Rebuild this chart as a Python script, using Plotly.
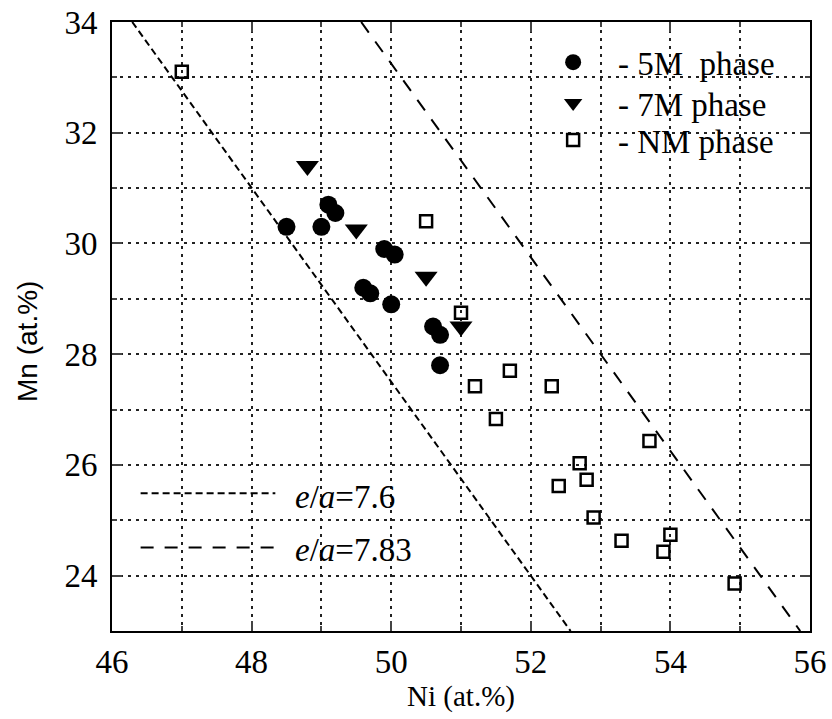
import plotly.graph_objects as go

# ---- data ----
ni_5m = [48.5, 49.0, 49.1, 49.2, 49.9, 50.05, 49.6, 49.7, 50.0, 50.6, 50.7, 50.7]
mn_5m = [30.3, 30.3, 30.7, 30.55, 29.9, 29.8, 29.2, 29.1, 28.9, 28.5, 28.35, 27.8]

ni_7m = [48.8, 49.5, 50.5, 51.0]
mn_7m = [31.4, 30.25, 29.4, 28.5]

ni_nm = [47.0, 50.5, 51.0, 51.7, 51.2, 52.3, 51.5, 53.7, 52.7, 52.8, 52.4, 52.9, 53.3, 54.0, 53.9, 54.92]
mn_nm = [33.1, 30.4, 28.75, 27.7, 27.42, 27.42, 26.83, 26.43, 26.03, 25.73, 25.62, 25.05, 24.63, 24.74, 24.43, 23.86]

# e/a iso-lines (end points)
ni_ea76 = [46.29, 52.57]
mn_ea76 = [34.0, 23.0]
ni_ea783 = [49.57, 55.86]
mn_ea783 = [34.0, 23.0]

x_ticks = [46, 48, 50, 52, 54, 56]
y_ticks = [24, 26, 28, 30, 32, 34]

SERIF = "Liberation Serif"
SANS = "Liberation Sans"

fig = go.Figure()

fig.add_trace(go.Scatter(x=ni_ea76, y=mn_ea76, mode="lines", showlegend=False,
                         line=dict(color="black", width=2, dash="7px,4px")))
fig.add_trace(go.Scatter(x=ni_ea783, y=mn_ea783, mode="lines", showlegend=False,
                         line=dict(color="black", width=2, dash="13px,11px")))

fig.add_trace(go.Scatter(x=ni_5m, y=mn_5m, mode="markers", name="&nbsp;&nbsp; - 5M&nbsp; phase",
                         marker=dict(symbol="circle", size=18, color="black"),
                         legend="legend"))
fig.add_trace(go.Scatter(x=ni_7m, y=mn_7m, mode="markers", name="&nbsp;&nbsp; - 7M phase",
                         marker=dict(symbol="triangle-down", size=20, color="black"),
                         legend="legend2"))
fig.add_trace(go.Scatter(x=ni_nm, y=mn_nm, mode="markers", name="&nbsp;&nbsp; - NM phase",
                         marker=dict(symbol="square-open", size=12, color="black",
                                     line=dict(width=2.5, color="black")),
                         legend="legend3"))

# line legend (samples + labels)
fig.add_shape(type="line", x0=46.41, x1=48.34, y0=25.49, y1=25.49,
              line=dict(color="black", width=2, dash="7px,4px"))
fig.add_shape(type="line", x0=46.41, x1=48.34, y0=24.51, y1=24.51,
              line=dict(color="black", width=2, dash="13px,11px"))
fig.add_annotation(x=48.6, y=25.42, text="<i>e</i>/<i>a</i>=7.6", showarrow=False,
                   xanchor="left", yanchor="middle", font=dict(family=SERIF, size=33, color="black"))
fig.add_annotation(x=48.6, y=24.47, text="<i>e</i>/<i>a</i>=7.83", showarrow=False,
                   xanchor="left", yanchor="middle", font=dict(family=SERIF, size=33, color="black"))

# y-axis title
fig.add_annotation(xref="paper", yref="paper", x=-0.122, y=0.476, text="Mn (at.%)",
                   textangle=-90, showarrow=False, xanchor="center", yanchor="middle",
                   font=dict(family=SANS, size=28, color="black"))

grid = dict(gridcolor="#222", gridwidth=1.5, griddash="3px,5px")
leg_common = dict(xanchor="left", yanchor="middle", bgcolor="rgba(0,0,0,0)",
                  font=dict(family=SERIF, size=33, color="black"), borderwidth=0)

fig.update_layout(
    width=832, height=719,
    margin=dict(l=112, r=22, t=22, b=88, autoexpand=False),
    paper_bgcolor="white", plot_bgcolor="white",
    legend=dict(x=0.632, y=0.934, **leg_common),
    legend2=dict(x=0.632, y=0.867, **leg_common),
    legend3=dict(x=0.632, y=0.806, **leg_common),
    xaxis=dict(range=[46, 56], tickvals=x_ticks, ticks="inside", ticklen=10, tickwidth=2,
               showline=True, linecolor="black", linewidth=2, mirror="ticks",
               showgrid=True, **grid, zeroline=False, automargin=False, ticklabeloverflow="allow",
               minor=dict(dtick=1, tick0=46, showgrid=True, ticks="inside", ticklen=5, tickwidth=1.5, **grid),
               tickfont=dict(family=SERIF, size=33, color="black"),
               title=dict(text="Ni (at.%)", font=dict(family=SERIF, size=29, color="black"), standoff=0)),
    yaxis=dict(range=[23, 34], tickvals=y_ticks, ticks="inside", ticklen=10, tickwidth=2,
               showline=True, linecolor="black", linewidth=2, mirror="ticks",
               showgrid=True, **grid, zeroline=False, automargin=False, ticklabelstandoff=6,
               ticklabeloverflow="allow",
               minor=dict(dtick=1, tick0=23, showgrid=True, ticks="inside", ticklen=5, tickwidth=1.5, **grid),
               tickfont=dict(family=SERIF, size=33, color="black")),
)

fig.write_html("out.html", config={"displayModeBar": False},
               post_script="document.body.style.margin='0';document.body.style.overflow='hidden';")
